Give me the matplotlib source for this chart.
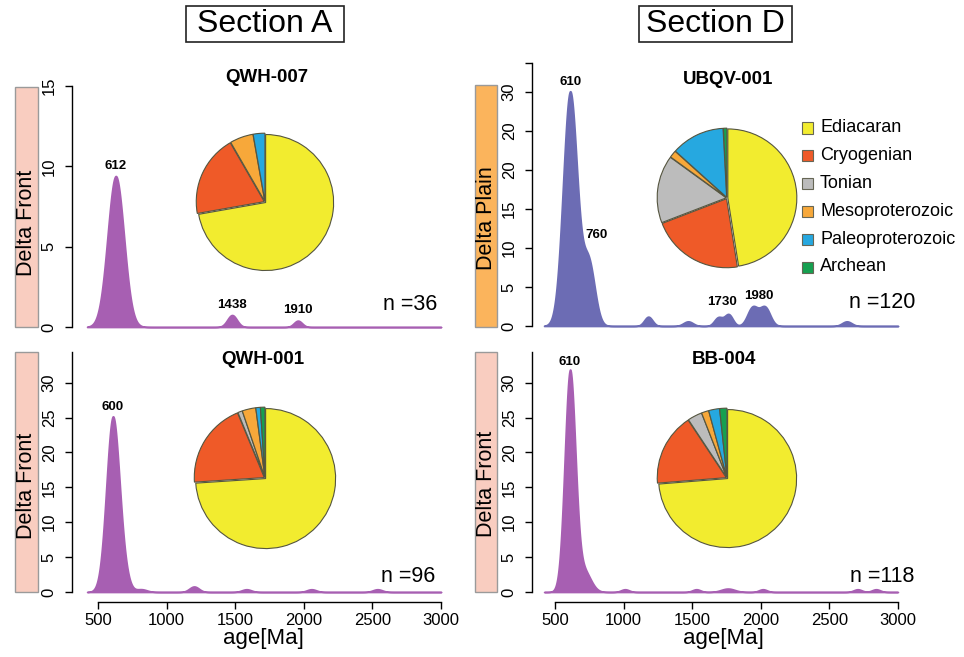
import numpy as np
import matplotlib
matplotlib.use('Agg')
import matplotlib.pyplot as plt
from matplotlib.patches import Rectangle

plt.rcParams['font.family'] = ['Liberation Sans', 'DejaVu Sans']

W, H = 964, 657

# age groups (pie) and colours
groups = ['Ediacaran', 'Cryogenian', 'Tonian', 'Mesoproterozoic', 'Paleoproterozoic', 'Archean']
group_colors = ['#f2ec2f', '#ef5a28', '#bcbcbc', '#f7a83a', '#26a8e0', '#16a050']

# grain counts per age group
qwh007_counts = [26, 7, 0, 2, 1, 0]
ubqv001_counts = [57, 26, 19, 2, 15, 1]
qwh001_counts = [71, 19, 1, 3, 1, 1]
bb004_counts = [87, 20, 4, 2, 3, 2]

# density peaks: centre [Ma], height, width [Ma]
qwh007_peak_age = [629, 1477, 1957]
qwh007_peak_h = [9.4, 0.75, 0.4]
qwh007_peak_w = [60, 35, 30]

ubqv001_peak_age = [610, 745, 1180, 1470, 1690, 1765, 1940, 2030, 2627]
ubqv001_peak_h = [30.0, 8.0, 1.2, 0.6, 1.1, 1.5, 2.4, 2.4, 0.6]
ubqv001_peak_w = [52, 45, 30, 35, 30, 30, 38, 38, 35]

qwh001_peak_age = [608, 690, 816, 1200, 1582, 2056, 2537]
qwh001_peak_h = [25.0, 1.5, 0.4, 0.8, 0.4, 0.4, 0.4]
qwh001_peak_w = [48, 40, 40, 35, 35, 35, 35]

bb004_peak_age = [609, 710, 1010, 1530, 1760, 2015, 2706, 2840]
bb004_peak_h = [31.5, 3.0, 0.4, 0.4, 0.5, 0.4, 0.4, 0.4]
bb004_peak_w = [39, 50, 30, 30, 50, 30, 30, 30]

# peak labels: text, age position, height position
qwh007_labels = [('612', 629, 9.4), ('1438', 1477, 0.75), ('1910', 1957, 0.4)]
ubqv001_labels = [('610', 610, 30.0), ('760', 800, 10.3), ('1730', 1717, 1.8), ('1980', 1987, 2.6)]
qwh001_labels = [('600', 608, 25.0)]
bb004_labels = [('610', 609, 31.5)]

age_start, age_end = 420, 3000


def px(x0, y0, x1, y1):
    return [x0 / W, 1 - y1 / H, (x1 - x0) / W, (y1 - y0) / H]


def density(ages, heights, widths):
    # curve rebuilt from the peaks read above
    t = np.linspace(age_start, age_end, 1200)
    d = np.zeros_like(t)
    for a, h, w in zip(ages, heights, widths):
        d += h * np.exp(-0.5 * ((t - a) / w) ** 2)
    return t, d


fig = plt.figure(figsize=(W / 100, H / 100), dpi=100)


def panel(rect, xlim, ylim, yticks, ylabels, spine_top, curve, color, labels,
          title, title_xy, n_text, n_xy, side_text, side_box, side_color, side_y,
          pie_counts, pie_c, pie_r, bottom=False):
    ax = fig.add_axes(px(*rect))
    t, d = curve
    ax.fill_between(t, 0, d, color=color, lw=1.2, edgecolor=color)
    ax.set_xlim(*xlim)
    ax.set_ylim(*ylim)
    for s in ['top', 'right']:
        ax.spines[s].set_visible(False)
    ax.spines['left'].set_bounds(0, spine_top)
    ax.spines['left'].set_linewidth(1.0)
    ax.set_yticks(yticks)
    ax.set_yticklabels(ylabels, rotation=90, va='center', fontsize=12)
    ax.tick_params(axis='y', length=5, width=1.0, pad=6)
    if bottom:
        ax.spines['bottom'].set_bounds(500, 3000)
        ax.spines['bottom'].set_linewidth(1.0)
        ax.set_xticks([500, 1000, 1500, 2000, 2500, 3000])
        ax.tick_params(axis='x', length=5, width=1.0, labelsize=12, pad=3)
        ax.set_xlabel('age[Ma]', fontsize=16, labelpad=0)
    else:
        ax.spines['bottom'].set_visible(False)
        ax.set_xticks([])
    for txt, a, h in labels:
        ax.annotate(txt, (a, h), xytext=(0, 3), textcoords='offset points',
                    ha='center', va='bottom', fontsize=9.5, fontweight='bold')
    fig.text(title_xy[0] / W, 1 - title_xy[1] / H, title, ha='center', va='center',
             fontsize=13.5, fontweight='bold')
    fig.text(n_xy[0] / W, 1 - n_xy[1] / H, n_text, ha='right', va='center', fontsize=15.5)
    bx0, by0, bx1, by1 = side_box
    fig.patches.append(Rectangle((bx0 / W, 1 - by1 / H), (bx1 - bx0) / W, (by1 - by0) / H,
                                 transform=fig.transFigure, facecolor=side_color,
                                 edgecolor='#9a9a9a', lw=1.0))
    fig.text((bx0 + bx1) / 2 / W, 1 - side_y / H, side_text, rotation=90,
             ha='center', va='center', fontsize=15.5)
    # pie inset
    cx, cy = pie_c
    r = pie_r * 1.02
    pax = fig.add_axes(px(cx - r, cy - r, cx + r, cy + r))
    keep = [i for i, v in enumerate(pie_counts) if v > 0]
    pax.pie([pie_counts[i] for i in keep], colors=[group_colors[i] for i in keep],
            startangle=90, counterclock=False, explode=[0.012] * len(keep),
            wedgeprops=dict(edgecolor='#55553f', linewidth=0.8))
    pax.set_xlim(-1.02, 1.02)
    pax.set_ylim(-1.02, 1.02)
    pax.set_aspect('equal')
    pax.axis('off')
    return ax


# Section A, top: QWH-007
panel((72, 86, 455, 337), (310, 3102), (-0.62, 15), [0, 5, 10, 15],
      ['0', '5', '10', '15'], 15,
      density(qwh007_peak_age, qwh007_peak_h, qwh007_peak_w), '#a75fb2', qwh007_labels,
      'QWH-007', (267, 77), 'n =36', (437, 305),
      'Delta Front', (15, 87, 38, 327), '#f9cdc0', 223,
      qwh007_counts, (265, 202), 68)

# Section D, top: UBQV-001
panel((532, 63, 915, 336), (332, 3124), (-1.28, 33.7), [0, 5, 10, 15, 20, 25, 30, 33.7],
      ['0', '5', '10', '15', '20', '20', '30', ''], 33.7,
      density(ubqv001_peak_age, ubqv001_peak_h, ubqv001_peak_w), '#6c6cb4', ubqv001_labels,
      'UBQV-001', (728, 80), 'n =120', (915, 303),
      'Delta Plain', (475, 85, 497, 327), '#fbb45c', 218,
      ubqv001_counts, (727, 198), 69)

# Section A, bottom: QWH-001
panel((72, 352, 455, 602), (310, 3102), (-1.43, 34.4), [0, 5, 10, 15, 20, 25, 30],
      ['0', '5', '10', '15', '20', '25', '30'], 34.4,
      density(qwh001_peak_age, qwh001_peak_h, qwh001_peak_w), '#a75fb2', qwh001_labels,
      'QWH-001', (263, 360), 'n =96', (435, 577),
      'Delta Front', (15, 352, 38, 592), '#f9cdc0', 486,
      qwh001_counts, (265, 478), 70, bottom=True)

# Section D, bottom: BB-004
panel((532, 352, 915, 602), (332, 3124), (-1.43, 34.4), [0, 5, 10, 15, 20, 25, 30],
      ['0', '5', '10', '15', '20', '25', '30'], 34.4,
      density(bb004_peak_age, bb004_peak_h, bb004_peak_w), '#a75fb2', bb004_labels,
      'BB-004', (724, 360), 'n =118', (914, 577),
      'Delta Front', (475, 352, 497, 592), '#f9cdc0', 484,
      bb004_counts, (727, 478), 69, bottom=True)

# section headers
for name, (x0, x1) in [('Section A', (186, 344)), ('Section D', (639, 792))]:
    fig.patches.append(Rectangle((x0 / W, 1 - 42 / H), (x1 - x0) / W, 36 / H,
                                 transform=fig.transFigure, facecolor='white',
                                 edgecolor='#222222', lw=1.2))
    fig.text((x0 + x1) / 2 / W, 1 - 24.5 / H, name, ha='center', va='center', fontsize=23)

# legend
for i, (g, c) in enumerate(zip(groups, group_colors)):
    yc = 128 + i * 27.8
    fig.patches.append(Rectangle((802 / W, 1 - (yc + 5.5) / H), 11 / W, 11 / H,
                                 transform=fig.transFigure, facecolor=c,
                                 edgecolor='#666655', lw=0.8))
    fig.text(820 / W, 1 - yc / H, g, ha='left', va='center', fontsize=13)

fig.savefig('out.png', dpi=100)
